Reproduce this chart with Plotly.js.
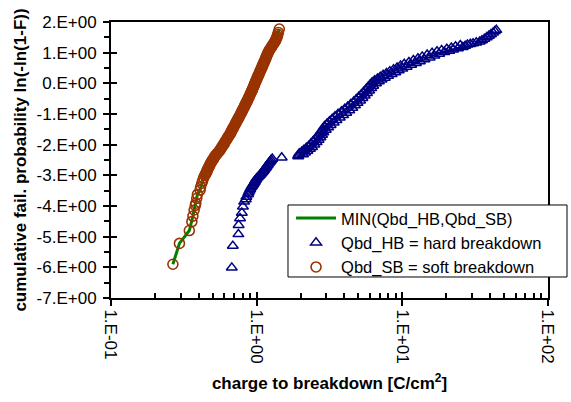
<!DOCTYPE html>
<html>
<head>
<meta charset="utf-8">
<script src="https://cdn.plot.ly/plotly-3.0.1.min.js"></script>
<style>
html,body{margin:0;padding:0;background:#fff;}
#chart{width:571px;height:402px;}
</style>
</head>
<body>
<div id="chart"></div>
<script>
// ---- data ----
// Soft breakdown (Qbd_SB): charge to breakdown [C/cm2] and Weibull ln(-ln(1-F))
var sbQbd = [0.266,0.295,0.345,0.359,0.365,0.372,0.379,0.382,0.388,0.392,0.409,0.412,0.420,0.426,0.432,
  0.440,0.447,0.449,0.455,0.456,0.462,0.466,0.470,0.476,0.478,0.484,0.490,0.494,0.503,0.508,0.515,0.519,0.530,0.537,0.546,
  0.556,0.562,0.570,0.576,0.585,0.590,0.600,0.605,0.613,0.619,0.628,0.633,0.644,0.649,0.660,0.664,0.673,0.677,0.687,0.691,
  0.701,0.706,0.716,0.720,0.731,0.736,0.746,0.751,0.762,0.767,0.777,0.782,0.793,0.797,0.809,0.813,0.825,0.829,0.841,0.845,
  0.857,0.861,0.873,0.877,0.889,0.893,0.905,0.909,0.921,0.925,0.937,0.940,0.952,0.955,0.967,0.970,0.983,0.986,0.999,1.003,
  1.017,1.020,1.034,1.038,1.051,1.055,1.069,1.073,1.088,1.092,1.106,1.110,1.125,1.129,1.144,1.148,1.162,1.166,1.181,1.185,
  1.200,1.208,1.225,1.235,1.255,1.266,1.286,1.298,1.320,1.332,1.350,1.358,1.372,1.383,1.395,1.408,1.430];
var sbWeibull = [-5.90,-5.22,-4.80,-4.51,-4.33,-4.13,-3.98,-3.91,-3.75,-3.62,-3.48,-3.38,-3.26,-3.17,-3.08,
  -3.00,-2.96,-2.92,-2.88,-2.84,-2.80,-2.76,-2.72,-2.68,-2.64,-2.60,-2.56,-2.52,-2.48,-2.44,-2.40,-2.36,-2.32,-2.28,-2.24,
  -2.20,-2.16,-2.12,-2.08,-2.04,-2.00,-1.96,-1.92,-1.88,-1.84,-1.80,-1.76,-1.72,-1.68,-1.64,-1.60,-1.56,-1.52,-1.48,-1.44,
  -1.40,-1.36,-1.32,-1.28,-1.24,-1.20,-1.16,-1.12,-1.08,-1.04,-1.00,-0.96,-0.92,-0.88,-0.84,-0.80,-0.76,-0.72,-0.68,-0.64,
  -0.60,-0.56,-0.52,-0.48,-0.44,-0.40,-0.36,-0.32,-0.28,-0.24,-0.20,-0.16,-0.12,-0.08,-0.04,0.00,0.04,0.08,0.12,0.16,
  0.20,0.24,0.28,0.32,0.36,0.40,0.44,0.48,0.52,0.56,0.60,0.64,0.68,0.72,0.76,0.80,0.84,0.88,0.92,0.96,
  1.00,1.04,1.08,1.12,1.16,1.20,1.24,1.28,1.32,1.36,1.40,1.44,1.48,1.53,1.59,1.66,1.77];

// Hard breakdown (Qbd_HB)
var hbQbd = [0.675,0.686,0.749,0.752,0.769,0.791,0.805,0.820,0.842,0.850,0.872,0.880,0.893,0.905,0.920,0.930,
  0.945,0.955,0.968,0.975,0.990,1.000,1.020,1.040,1.060,1.075,1.090,1.110,1.125,1.140,1.160,1.173,1.190,1.205,1.225,1.240,1.258,1.280,
  1.486,
  1.93,1.93,2.08,1.96,2.15,2.04,2.23,2.11,2.32,2.19,2.40,2.28,2.49,2.36,2.58,2.45,2.66,2.54,2.74,2.62,
  2.81,2.70,2.87,2.78,2.98,2.84,3.10,2.92,3.22,3.04,3.38,3.16,3.53,3.30,3.72,3.45,3.92,3.62,4.12,3.82,
  4.32,4.02,4.53,4.22,4.73,4.42,4.93,4.63,5.13,4.83,5.32,5.03,5.52,5.23,5.72,5.42,5.92,5.62,6.12,5.82,
  6.31,6.02,6.60,6.21,6.90,6.45,7.20,6.75,7.58,7.05,7.98,7.38,8.45,7.78,8.95,8.20,9.45,8.70,10.0,9.20,
  10.7,9.72,11.5,10.3,12.4,11.1,13.2,11.9,14.2,12.8,15.4,13.7,16.6,14.8,17.9,16.0,19.4,17.3,21.0,18.6,
  22.3,20.2,24.1,21.7,26.0,23.2,27.0,25.0,
  28.0,29.3,30.6,32.2,34.0,35.2,36.6,38.0,39.3,40.6,42.0,43.2,44.2];
var hbWeibull = [-6.01,-5.30,-4.92,-4.62,-4.40,-4.22,-4.02,-3.86,-3.78,-3.70,-3.62,-3.56,-3.50,-3.44,-3.38,-3.34,
  -3.30,-3.26,-3.22,-3.18,-3.14,-3.10,-3.06,-3.02,-2.98,-2.94,-2.90,-2.86,-2.82,-2.78,-2.74,-2.70,-2.66,-2.62,-2.58,-2.54,-2.50,-2.46,
  -2.42,
  -2.38,-2.35,-2.32,-2.29,-2.26,-2.23,-2.20,-2.17,-2.14,-2.11,-2.08,-2.04,-2.00,-1.96,-1.92,-1.88,-1.84,-1.80,-1.76,-1.72,
  -1.68,-1.64,-1.60,-1.56,-1.52,-1.48,-1.44,-1.40,-1.36,-1.32,-1.28,-1.24,-1.20,-1.16,-1.12,-1.08,-1.04,-1.00,-0.96,-0.92,
  -0.88,-0.84,-0.80,-0.76,-0.72,-0.68,-0.64,-0.60,-0.56,-0.52,-0.48,-0.44,-0.40,-0.36,-0.32,-0.28,-0.24,-0.20,-0.16,-0.12,
  -0.08,-0.04,0.00,0.03,0.06,0.09,0.12,0.15,0.18,0.21,0.24,0.27,0.30,0.33,0.36,0.39,0.42,0.45,0.48,0.51,
  0.54,0.57,0.60,0.63,0.66,0.69,0.72,0.75,0.78,0.81,0.84,0.87,0.90,0.93,0.96,0.99,1.02,1.04,1.06,1.08,
  1.10,1.12,1.14,1.16,1.18,1.20,1.22,1.24,
  1.26,1.28,1.30,1.33,1.36,1.40,1.45,1.50,1.55,1.60,1.65,1.70,1.74];

// MIN(Qbd_HB, Qbd_SB) per device equals the soft-breakdown values
var minQbd = sbQbd;
var minWeibull = sbWeibull;

var xTickVals = [0.1, 1, 10, 100];
var xTickText = ['1.E-01', '1.E+00', '1.E+01', '1.E+02'];
var xMinorVals = [0.2,0.3,0.4,0.5,0.6,0.7,0.8,0.9,2,3,4,5,6,7,8,9,20,30,40,50,60,70,80,90];
var yTickVals = [-7,-6,-5,-4,-3,-2,-1,0,1,2];
var yTickText = ['-7.E+00','-6.E+00','-5.E+00','-4.E+00','-3.E+00','-2.E+00','-1.E+00','0.E+00','1.E+00','2.E+00'];
var yMinorVals = [-6.5,-5.5,-4.5,-3.5,-2.5,-1.5,-0.5,0.5,1.5];

var seriesNames = ['MIN(Qbd_HB,Qbd_SB)', 'Qbd_HB = hard breakdown', 'Qbd_SB = soft breakdown'];

var FONT = 'Arial, "Liberation Sans", sans-serif';
var FS = 17;

var traces = [
  {x: minQbd, y: minWeibull, name: seriesNames[0], type: 'scatter', mode: 'lines',
   line: {color: '#008000', width: 3}},
  {x: hbQbd, y: hbWeibull, name: seriesNames[1], type: 'scatter', mode: 'markers',
   marker: {symbol: 'triangle-up-open', size: 9.5, color: '#000080', line: {color: '#000080', width: 1.5}}},
  {x: sbQbd, y: sbWeibull, name: seriesNames[2], type: 'scatter', mode: 'markers',
   marker: {symbol: 'circle-open', size: 10, color: '#993300', line: {color: '#993300', width: 1.6}}},
  {x: [], y: [], xaxis: 'x2', yaxis: 'y2', showlegend: false, hoverinfo: 'skip', type: 'scatter', mode: 'markers'}
];

var layout = {
  width: 571, height: 402,
  margin: {l: 111, r: 23, t: 22, b: 104},
  paper_bgcolor: '#fff', plot_bgcolor: '#fff',
  font: {family: FONT, size: FS, color: '#000'},
  showlegend: true,
  legend: {x: 0.412, y: 0.352, xanchor: 'left', yanchor: 'top',
    bgcolor: 'rgba(0,0,0,0)', borderwidth: 0,
    font: {family: FONT, size: 16.5, color: '#000'}, itemwidth: 40, tracegroupgap: 0},
  shapes: [{type: 'rect', xref: 'paper', yref: 'paper', x0: 0.405, x1: 1.0435, y0: 0.0761, y1: 0.337,
    layer: 'above', fillcolor: '#fff', line: {color: '#000', width: 1}}],
  xaxis: {
    type: 'log', range: [-1, 2], autorange: false,
    tickmode: 'array', tickvals: xTickVals, ticktext: xTickText, tickangle: 90,
    ticks: 'outside', ticklen: 6, tickwidth: 2, tickcolor: '#000',
    minor: {tickmode: 'array', tickvals: xMinorVals, ticks: 'inside', ticklen: 5, tickwidth: 2, tickcolor: '#000', showgrid: false},
    showline: true, linewidth: 2, linecolor: '#000', mirror: true,
    showgrid: false, zeroline: false,
    tickfont: {family: FONT, size: FS},
    title: {text: '<b>charge to breakdown [C/cm<sup>2</sup>]</b>', font: {family: FONT, size: FS}, standoff: 14}
  },
  yaxis: {
    range: [-7, 2], autorange: false,
    tickmode: 'array', tickvals: yTickVals, ticktext: yTickText,
    ticks: 'outside', ticklen: 6, tickwidth: 2, tickcolor: '#000',
    minor: {tickmode: 'array', tickvals: yMinorVals, ticks: 'outside', ticklen: 5, tickwidth: 2, tickcolor: '#000', showgrid: false},
    showline: true, linewidth: 2, linecolor: '#000', mirror: true,
    showgrid: false, zeroline: false, ticklabelstandoff: 3,
    tickfont: {family: FONT, size: FS},
    title: {text: '<b>cumulative fail. probability ln(-ln(1-F))</b>', font: {family: FONT, size: FS}, standoff: 6}
  },
  xaxis2: {
    type: 'log', range: [-1, 2], autorange: false, overlaying: 'x', anchor: 'y2', side: 'bottom',
    tickmode: 'array', tickvals: xTickVals, ticks: 'inside', ticklen: 6, tickwidth: 2, tickcolor: '#000',
    showticklabels: false, showline: false, showgrid: false, zeroline: false
  },
  yaxis2: {
    range: [-7, 2], autorange: false, overlaying: 'y', anchor: 'x2', side: 'left',
    tickmode: 'array', tickvals: yTickVals, ticks: 'inside', ticklen: 6, tickwidth: 2, tickcolor: '#000',
    showticklabels: false, showline: false, showgrid: false, zeroline: false
  }
};

Plotly.newPlot('chart', traces, layout, {displayModeBar: false, staticPlot: true});
</script>
</body>
</html>
